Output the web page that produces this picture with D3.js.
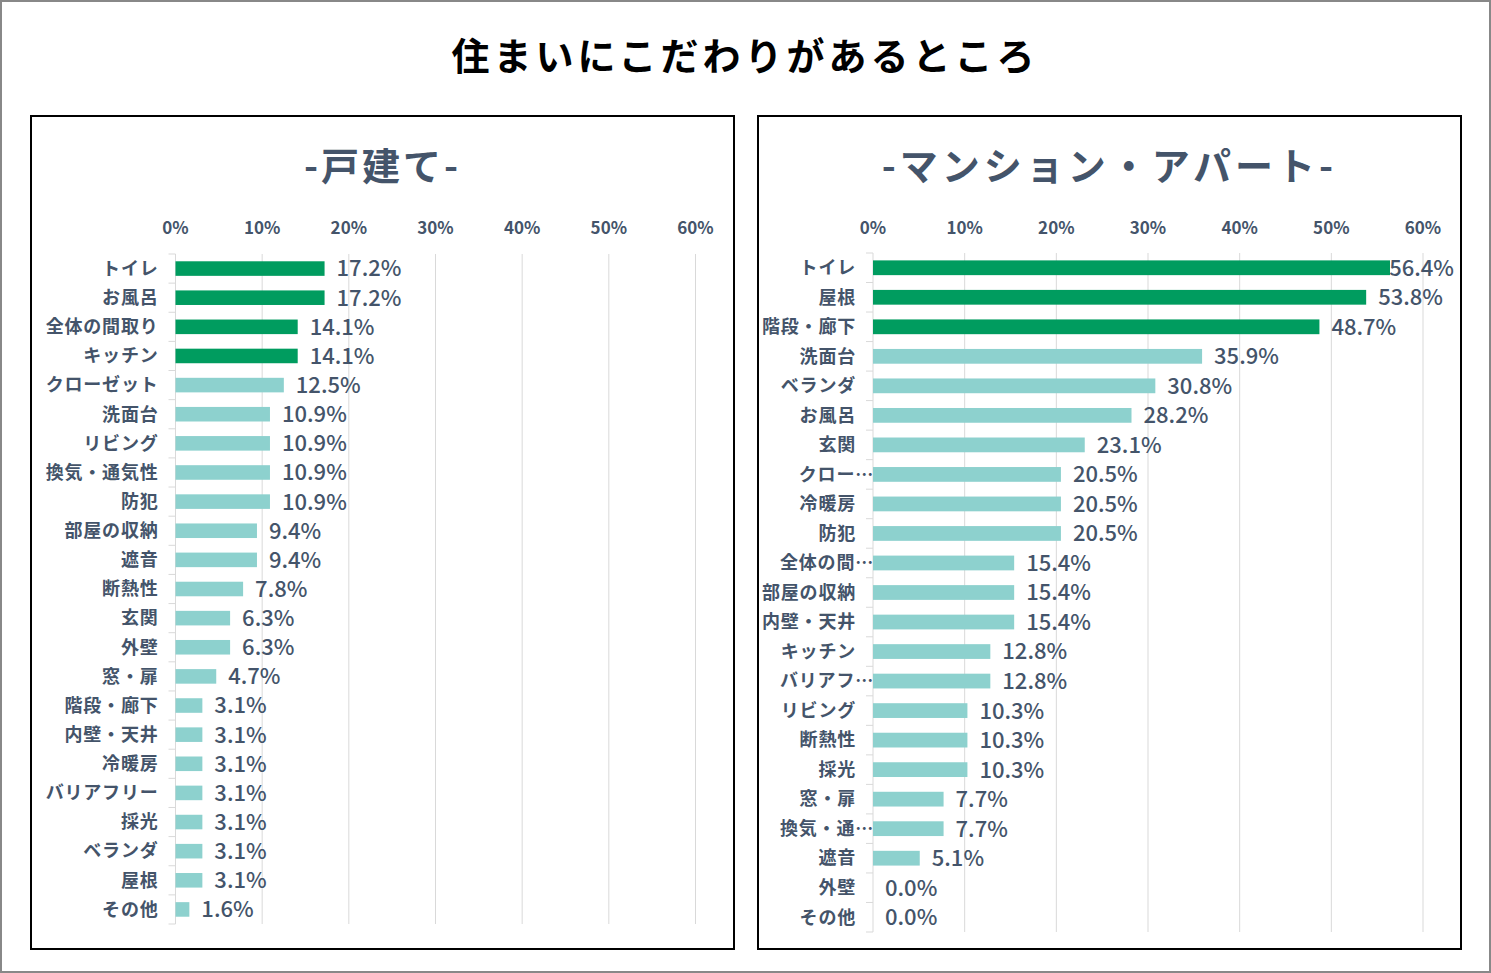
<!DOCTYPE html>
<html>
<head>
<meta charset="utf-8">
<script src="https://cdn.jsdelivr.net/npm/d3@7"></script>
<style>
  body { margin: 0; background: #fff; }
  svg { display: block; font-family: "Noto Sans CJK JP", "Noto Sans", sans-serif; }
</style>
</head>
<body>
<svg id="chart"></svg>
<script>
// data
var chartTitle = '住まいにこだわりがあるところ'
var houseTitle = '-戸建て-'
var mansionTitle = '-マンション・アパート-'

var houseLabels = ['トイレ','お風呂','全体の間取り','キッチン','クローゼット','洗面台','リビング','換気・通気性','防犯','部屋の収納','遮音','断熱性','玄関','外壁','窓・扉','階段・廊下','内壁・天井','冷暖房','バリアフリー','採光','ベランダ','屋根','その他']
var houseValues = [17.2,17.2,14.1,14.1,12.5,10.9,10.9,10.9,10.9,9.4,9.4,7.8,6.3,6.3,4.7,3.1,3.1,3.1,3.1,3.1,3.1,3.1,1.6]
var houseTop = ['トイレ','お風呂','全体の間取り','キッチン']

var mansionLabels = ['トイレ','屋根','階段・廊下','洗面台','ベランダ','お風呂','玄関','クロー…','冷暖房','防犯','全体の間…','部屋の収納','内壁・天井','キッチン','バリアフ…','リビング','断熱性','採光','窓・扉','換気・通…','遮音','外壁','その他']
var mansionValues = [56.4,53.8,48.7,35.9,30.8,28.2,23.1,20.5,20.5,20.5,15.4,15.4,15.4,12.8,12.8,10.3,10.3,10.3,7.7,7.7,5.1,0.0,0.0]
var mansionTop = ['トイレ','屋根','階段・廊下']

var ticks = [0,10,20,30,40,50,60]

var screen = {width:1491, height:973}
var green = '#009C5F', teal = '#8DD1CE', ink = '#44546A', grid = '#D9D9D9'

var svg = d3.select('#chart')
  .attr('width', screen.width)
  .attr('height', screen.height)

// outer frame
svg.append('rect')
  .attr('x',1).attr('y',1)
  .attr('width',screen.width-2).attr('height',screen.height-2)
  .attr('fill','#fff').attr('stroke','#888').attr('stroke-width',2)

svg.append('text')
  .attr('x', 745).attr('y', 70)
  .attr('text-anchor','middle')
  .attr('font-size','38px')
  .attr('font-weight','bold')
  .attr('letter-spacing','4px')
  .attr('fill','#000')
  .text(chartTitle)

var drawPanel = function(opt){
  var g = svg.append('g')

  g.append('rect')
    .attr('x', opt.box[0]).attr('y', opt.box[1])
    .attr('width', opt.box[2]).attr('height', opt.box[3])
    .attr('fill','#fff').attr('stroke','#000').attr('stroke-width',2)

  g.append('text')
    .attr('x', opt.box[0] + opt.box[2]/2).attr('y', 180)
    .attr('text-anchor','middle')
    .attr('font-size','38px')
    .attr('font-weight','bold')
    .attr('letter-spacing', opt.spacing)
    .attr('fill', ink)
    .text(opt.title)

  var xScale = d3.scaleLinear()
    .domain([0,60])
    .range([opt.left, opt.right])

  var yScale = d3.scaleBand()
    .domain(opt.labels)
    .range([opt.top, opt.bottom])
    .paddingInner(0.5)
    .paddingOuter(0.25)

  // gridlines
  g.selectAll('.grid')
    .data(ticks.slice(1))
    .enter()
    .append('line')
    .attr('x1', function(d){return xScale(d)})
    .attr('x2', function(d){return xScale(d)})
    .attr('y1', opt.top)
    .attr('y2', opt.bottom)
    .attr('stroke', grid)
    .attr('stroke-width',1)

  // top axis labels
  g.selectAll('.tick')
    .data(ticks)
    .enter()
    .append('text')
    .attr('x', function(d){return xScale(d)})
    .attr('y', 234)
    .attr('text-anchor','middle')
    .attr('font-size','17px')
    .attr('font-weight','bold')
    .attr('fill', ink)
    .text(function(d){return d + '%'})

  // category axis line + tick marks
  g.append('line')
    .attr('x1', xScale(0)).attr('x2', xScale(0))
    .attr('y1', opt.top).attr('y2', opt.bottom)
    .attr('stroke', grid)
  var step = (opt.bottom - opt.top) / opt.labels.length
  g.selectAll('.ctick')
    .data(d3.range(opt.labels.length + 1))
    .enter()
    .append('line')
    .attr('x1', xScale(0) - 7).attr('x2', xScale(0))
    .attr('y1', function(d){return opt.top + d*step})
    .attr('y2', function(d){return opt.top + d*step})
    .attr('stroke', grid)

  // bars
  g.selectAll('.bar')
    .data(opt.values)
    .enter()
    .append('rect')
    .attr('x', xScale(0))
    .attr('y', function(d,i){return yScale(opt.labels[i])})
    .attr('width', function(d){return xScale(d) - xScale(0)})
    .attr('height', yScale.bandwidth())
    .attr('fill', function(d,i){return opt.highlight.indexOf(opt.labels[i]) >= 0 ? green : teal})

  // category labels (truncated ones run up to the axis, like Excel)
  g.selectAll('.cat')
    .data(opt.labels)
    .enter()
    .append('text')
    .attr('x', function(d){return d.slice(-1) == '…' ? xScale(0) + 1 : xScale(0) - 17})
    .attr('y', function(d){return yScale(d) + yScale.bandwidth()/2})
    .attr('dy','0.35em')
    .attr('text-anchor','end')
    .attr('font-size','18px')
    .attr('font-weight','bold')
    .attr('letter-spacing','0.8px')
    .attr('fill', ink)
    .text(function(d){return d})

  // value labels
  g.selectAll('.val')
    .data(opt.values)
    .enter()
    .append('text')
    .attr('x', function(d){return xScale(d) + 12})
    .attr('y', function(d,i){return yScale(opt.labels[i]) + yScale.bandwidth()/2})
    .attr('dy','0.36em')
    .attr('font-size','22px')
    .attr('font-weight','500')
    .attr('fill', ink)
    .text(function(d){return d.toFixed(1) + '%'})
    .each(function(){
      var w = this.getComputedTextLength()
      var x = +d3.select(this).attr('x')
      if (x + w > opt.limit) d3.select(this).attr('x', opt.limit - w)
    })
}

drawPanel({
  box:[31,116,703,833], title:houseTitle, spacing:'3px',
  left:175.5, right:695.5, top:254, bottom:924, limit:728,
  labels:houseLabels, values:houseValues, highlight:houseTop
})

drawPanel({
  box:[758,116,703,833], title:mansionTitle, spacing:'4px',
  left:873, right:1423, top:253, bottom:932, limit:1454,
  labels:mansionLabels, values:mansionValues, highlight:mansionTop
})
</script>
</body>
</html>
